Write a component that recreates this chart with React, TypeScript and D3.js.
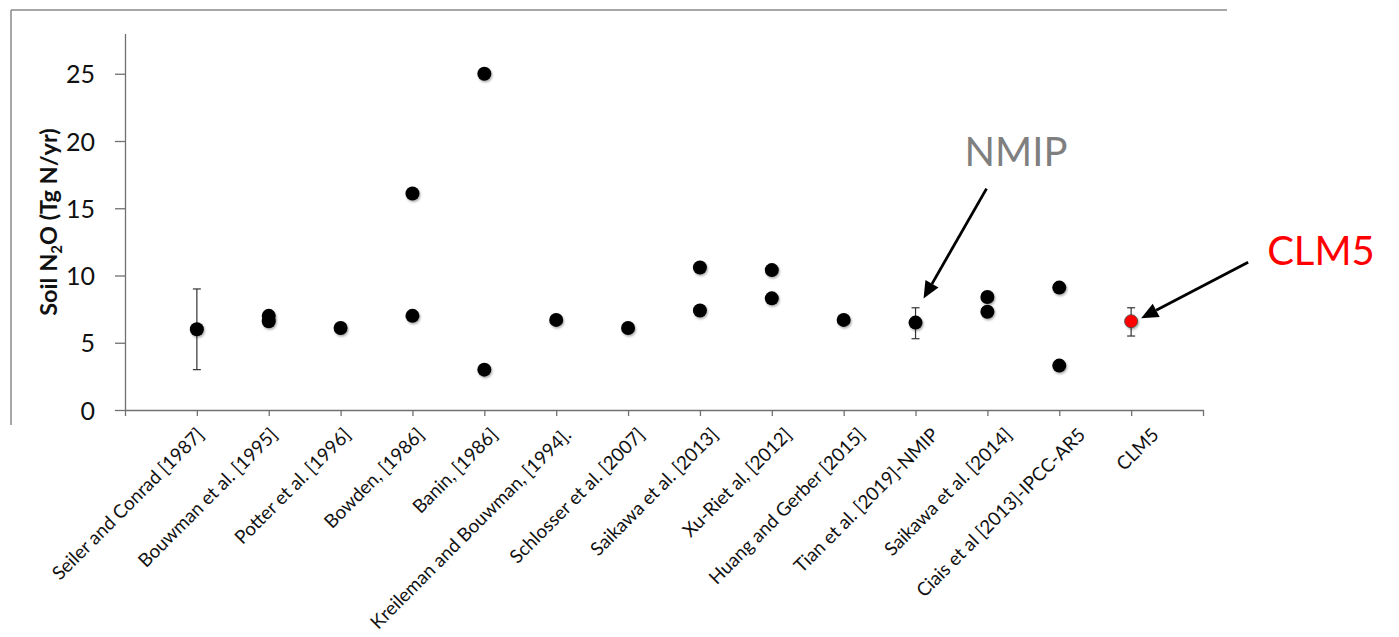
import React, { useRef, useEffect } from "react";
import * as d3 from "d3";

// studies along the x axis, one per slot 1..14
const studies = [
  "Seiler and Conrad [1987]",
  "Bouwman et al. [1995]",
  "Potter et al. [1996]",
  "Bowden, [1986]",
  "Banin, [1986]",
  "Kreileman and Bouwman, [1994].",
  "Schlosser et al. [2007]",
  "Saikawa et al. [2013]",
  "Xu-Riet al, [2012]",
  "Huang and Gerber [2015]",
  "Tian et al. [2019]-NMIP",
  "Saikawa et al. [2014]",
  "Ciais et al [2013]-IPCC-AR5",
  "CLM5",
];

// first estimate of each study (Tg N/yr)
const estimateA = [6.0, 7.0, 6.1, 16.1, 25.0, 6.7, 6.1, 10.6, 10.4, 6.7, 6.5, 8.4, 9.1, 6.6];
// second estimate, where the study gives one
const estimateB = [null, 6.6, null, 7.0, 3.0, null, null, 7.4, 8.3, null, null, 7.3, 3.3, null];
// ranges shown as error bars
const errorStudy = ["Seiler and Conrad [1987]", "Tian et al. [2019]-NMIP", "CLM5"];
const errorLow = [3.0, 5.3, 5.5];
const errorHigh = [9.0, 7.6, 7.6];

const yTicks = [0, 5, 10, 15, 20, 25];
const highlight = "CLM5";

const W = 1399;
const H = 637;

function App() {
  const svgRef = useRef(null);

  useEffect(() => {
    const svg = d3.select(svgRef.current);
    svg.selectAll("*").remove();

    const x = d3.scaleLinear().domain([0, studies.length + 1]).range([125, 1203]);
    const labelX = d3.scaleLinear().domain([1, studies.length]).range([205, 1160]);
    const y = d3.scaleLinear().domain([0, 28]).range([410, 33.4]);
    const idx = (name) => studies.indexOf(name) + 1;

    const defs = svg.append("defs");
    defs
      .append("filter")
      .attr("id", "shadow")
      .attr("x", "-50%")
      .attr("y", "-50%")
      .attr("width", "200%")
      .attr("height", "200%")
      .append("feDropShadow")
      .attr("dx", 1)
      .attr("dy", 1.5)
      .attr("stdDeviation", 1.3)
      .attr("flood-color", "#000")
      .attr("flood-opacity", 0.35);

    // partial chart frame
    svg.append("line").attr("x1", 11).attr("x2", 1227).attr("y1", 10).attr("y2", 10)
      .attr("stroke", "#8a8a8a").attr("stroke-width", 1.5);
    svg.append("line").attr("x1", 11).attr("x2", 11).attr("y1", 10).attr("y2", 425)
      .attr("stroke", "#8a8a8a").attr("stroke-width", 1.5);

    // y axis
    const yAxis = svg
      .append("g")
      .attr("transform", "translate(125,0)")
      .call(d3.axisLeft(y).tickValues(yTicks).tickSize(10).tickPadding(20).tickSizeOuter(0));
    yAxis.select(".domain").attr("stroke", "#707070").attr("stroke-width", 1.3);
    yAxis.selectAll(".tick line").attr("stroke", "#707070").attr("stroke-width", 1.3);
    yAxis
      .selectAll(".tick text")
      .attr("font-family", "Lato, sans-serif")
      .attr("font-size", 25)
      .attr("fill", "#111")
      .attr("dy", "0.36em");

    // x axis
    const xAxis = svg
      .append("g")
      .attr("transform", "translate(0,410)")
      .call(
        d3.axisBottom(x)
          .tickValues(d3.range(0, studies.length + 2))
          .tickSize(6)
          .tickSizeOuter(0)
          .tickFormat(() => "")
      );
    xAxis.select(".domain").attr("stroke", "#707070").attr("stroke-width", 1.3);
    xAxis.selectAll(".tick line").attr("stroke", "#707070").attr("stroke-width", 1.3);

    // rotated study labels
    svg
      .append("g")
      .selectAll("text")
      .data(studies)
      .join("text")
      .attr("transform", (d, i) => `translate(${labelX(i + 1)},436) rotate(-45)`)
      .attr("text-anchor", "end")
      .attr("font-family", "Lato, sans-serif")
      .attr("font-size", 18.8)
      .attr("fill", "#111")
      .text((d) => d);

    // y axis title
    const title = svg
      .append("text")
      .attr("transform", "translate(57,222) rotate(-90)")
      .attr("text-anchor", "middle")
      .attr("font-family", "Lato, sans-serif")
      .attr("font-weight", "bold")
      .attr("font-size", 23.5)
      .attr("fill", "#111");
    title.append("tspan").text("Soil N");
    title.append("tspan").attr("font-size", 15).attr("dy", 5).text("2");
    title.append("tspan").attr("dy", -5).text("O (Tg N/yr)");

    // error bars
    const bars = svg.append("g").attr("stroke", "#333").attr("stroke-width", 1.2);
    errorStudy.forEach((name, i) => {
      const cx = x(idx(name));
      bars.append("line").attr("x1", cx).attr("x2", cx).attr("y1", y(errorLow[i])).attr("y2", y(errorHigh[i]));
      [errorLow[i], errorHigh[i]].forEach((v) => {
        bars.append("line").attr("x1", cx - 4).attr("x2", cx + 4).attr("y1", y(v)).attr("y2", y(v));
      });
    });

    // points
    const points = [];
    studies.forEach((name, i) => {
      points.push({ name, v: estimateA[i], i: i + 1 });
      if (estimateB[i] != null) points.push({ name, v: estimateB[i], i: i + 1 });
    });
    svg
      .append("g")
      .selectAll("circle")
      .data(points)
      .join("circle")
      .attr("cx", (d) => x(d.i))
      .attr("cy", (d) => y(d.v))
      .attr("r", (d) => (d.name === highlight ? 6.5 : 7))
      .attr("fill", (d) => (d.name === highlight ? "#ff0000" : "#000"))
      .attr("stroke", (d) => (d.name === highlight ? "#444" : "none"))
      .attr("stroke-width", 0.8)
      .attr("filter", "url(#shadow)");

    // annotation arrows
    const arrow = (x1, y1, x2, y2) => {
      const a = Math.atan2(y2 - y1, x2 - x1);
      const len = 17;
      const hw = 7.5;
      const bx = x2 - len * Math.cos(a);
      const by = y2 - len * Math.sin(a);
      svg.append("line").attr("x1", x1).attr("y1", y1).attr("x2", bx).attr("y2", by)
        .attr("stroke", "#000").attr("stroke-width", 2.8);
      svg.append("polygon")
        .attr("points", [
          [x2, y2],
          [bx + hw * Math.sin(a), by - hw * Math.cos(a)],
          [bx - hw * Math.sin(a), by + hw * Math.cos(a)],
        ].map((p) => p.join(",")).join(" "))
        .attr("fill", "#000");
    };

    const nmip = idx("Tian et al. [2019]-NMIP");
    arrow(x(nmip) + 71, y(estimateA[nmip - 1]) - 134, x(nmip) + 8, y(estimateA[nmip - 1]) - 24);
    svg.append("text")
      .attr("x", x(nmip) + 49)
      .attr("y", 166)
      .attr("font-family", "Lato, sans-serif")
      .attr("font-size", 40)
      .attr("fill", "#7f7f7f")
      .text("NMIP");

    const clm = idx(highlight);
    arrow(x(clm) + 117, y(estimateA[clm - 1]) - 59, x(clm) + 10, y(estimateA[clm - 1]) - 3);
    svg.append("text")
      .attr("x", x(clm) + 136)
      .attr("y", 265)
      .attr("font-family", "Lato, sans-serif")
      .attr("font-size", 40)
      .attr("fill", "#ff0000")
      .text("CLM5");
  }, []);

  return (
    <svg
      ref={svgRef}
      width={W}
      height={H}
      style={{ position: "absolute", left: 0, top: 0, background: "#fff" }}
    />
  );
}

export default App;
